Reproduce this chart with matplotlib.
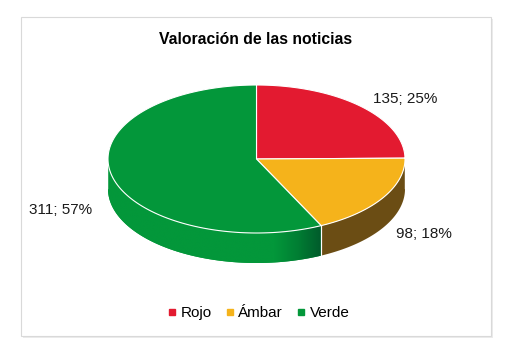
import numpy as np
import matplotlib.pyplot as plt
from matplotlib.patches import Polygon, FancyBboxPatch
from matplotlib.lines import Line2D
from matplotlib.colors import LinearSegmentedColormap

plt.rcParams['font.family'] = ['Liberation Sans', 'DejaVu Sans']

labels = ['Rojo', 'Ámbar', 'Verde']
values = [135, 98, 311]
top_colors = ['#E31A30', '#F5B31B', '#03973A']
side_colors = ['#9A1020', '#6B4D14', '#03973A']
label_pos = [(405, 99), (424, 234), (61, 210)]

# pie geometry in pixel space
cx, cy, a, b, depth = 256.5, 159, 148.5, 74, 30

fig = plt.figure(figsize=(5.11, 3.55), dpi=100)
ax = fig.add_axes([0, 0, 1, 1])
ax.set_xlim(0, 511)
ax.set_ylim(355, 0)
ax.axis('off')

# chart frame
ax.add_patch(FancyBboxPatch((23, 19), 470, 319, boxstyle='square,pad=0',
                            fc='#EBEBEB', ec='none', zorder=0))
ax.add_patch(FancyBboxPatch((21, 17), 470, 319, boxstyle='square,pad=0',
                            fc='white', ec='#D9D9D9', lw=0.8, zorder=1))


def pt(t, dy=0):
    return cx + a * np.cos(t), cy + b * np.sin(t) + dy


total = sum(values)
fr = np.array(values) / total
start = -np.pi / 2  # top of ellipse in image coords (y down)
angles = []
for f in fr:
    angles.append((start, start + f * 2 * np.pi))
    start += f * 2 * np.pi

# sides (front half: t in [0, pi])
for (t0, t1), sc, i in zip(angles, side_colors, range(3)):
    for off in (0, 2 * np.pi, -2 * np.pi):
        s0, s1 = max(t0 + off, 0), min(t1 + off, np.pi)
        if s1 <= s0:
            continue
        t = np.linspace(s0, s1, 100)
        xs, ys = pt(t)
        verts = np.vstack([np.column_stack([xs, ys]),
                           np.column_stack([xs[::-1], ys[::-1] + depth])])
        poly = Polygon(verts, closed=True, fc=sc, ec='none', zorder=2)
        ax.add_patch(poly)
        if i == 2:
            cmap = LinearSegmentedColormap.from_list(
                'g', ['#03973A', '#03973A', '#007E33', '#005A2B'])
            x0, x1 = xs.min(), xs.max()
            xn = np.linspace(x0, x1, 256)
            gval = np.clip((xn - 250) / (x1 - 250), 0, 1).reshape(1, -1)
            im = ax.imshow(gval, cmap=cmap, vmin=0, vmax=1, aspect='auto',
                           extent=(x0, x1, ys.max() + depth, ys.min()),
                           zorder=2.1, interpolation='bilinear')
            im.set_clip_path(poly)
        # vertical divider at slice boundary on the side
        for tb in (s0, s1):
            if 0 < tb < np.pi:
                x, y = pt(tb)
                ax.plot([x, x], [y, y + depth], color='white', lw=0.8, zorder=3)

# left/right outer edges of the side
for tb in (0, np.pi):
    x, y = pt(tb)
    ax.plot([x, x], [y, y + depth], color='white', lw=0.3, zorder=3)

# top faces
for (t0, t1), tc in zip(angles, top_colors):
    t = np.linspace(t0, t1, 200)
    xs, ys = pt(t)
    verts = np.vstack([[cx, cy], np.column_stack([xs, ys])])
    ax.add_patch(Polygon(verts, closed=True, fc=tc, ec='white', lw=0.8,
                         joinstyle='round', zorder=4))

# labels
for (x, y), v, f in zip(label_pos, values, fr):
    ax.text(x, y, f'{v}; {f * 100:.0f}%', ha='center', va='center',
            fontsize=11, color='#1A1A1A', zorder=5)

ax.text(256, 40, 'Valoración de las noticias', ha='center', va='center',
        fontsize=11.3, fontweight='bold', color='black', zorder=5)

handles = [Line2D([], [], ls='none', marker='s', ms=5, mfc=c, mec=c)
           for c in top_colors]
fig.legend(handles, labels, loc='center', bbox_to_anchor=(259 / 511, 1 - 313 / 355),
           ncol=3, frameon=False, fontsize=11, handlelength=0.5,
           handletextpad=0.3, columnspacing=0.95)

fig.savefig('out.png', dpi=100)
